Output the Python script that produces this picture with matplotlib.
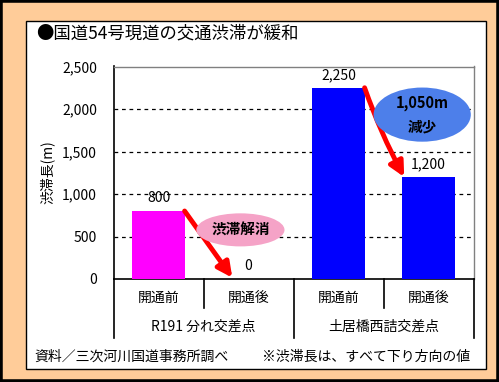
import matplotlib
matplotlib.use("Agg")
import matplotlib.pyplot as plt
from matplotlib.patches import Rectangle, Ellipse
from matplotlib.lines import Line2D

plt.rcParams['font.family'] = ['Noto Sans CJK JP', 'DejaVu Sans']

# データ
title = "●国道54号現道の交通渋滞が緩和"
ylabel = "渋滞長(m)"
periods = ["開通前", "開通後", "開通前", "開通後"]
intersections = ["R191 分れ交差点", "土居橋西詰交差点"]
values = [800, 0, 2250, 1200]
value_labels = ["800", "0", "2,250", "1,200"]
bar_colors = ["#FF00FF", "#FF00FF", "#0000FF", "#0000FF"]
yticks = [0, 500, 1000, 1500, 2000, 2500]
note_left = "資料／三次河川国道事務所調べ"
note_right = "※渋滞長は、すべて下り方向の値"
bubble1 = "渋滞解消"
bubble2 = "1,050m\n減少"

W, H = 499, 382
fig = plt.figure(figsize=(W / 100, H / 100), dpi=100)

def fx(px):
    return px / W

def fy(py):
    return 1 - py / H

# 枠
fig.patches.append(Rectangle((0, 0), 1, 1, transform=fig.transFigure,
                             facecolor="#FFCC99", edgecolor="black", lw=4,
                             zorder=-10))
fig.patches.append(Rectangle((fx(25.5), fy(368.5)), fx(460), 348 / H,
                             transform=fig.transFigure, facecolor="white",
                             edgecolor="black", lw=1, zorder=-9))

fig.text(fx(36), fy(33), title, fontsize=12.5, va="center", ha="left")

# グラフ
x0, x1, y0, y1 = 113.5, 473.5, 66.5, 279
ax = fig.add_axes([fx(x0), fy(y1), fx(x1 - x0), (y1 - y0) / H])
ax.patch.set_alpha(0)
x = list(range(len(values)))
ax.bar(x, values, width=0.58, color=bar_colors, zorder=3)
ax.set_xlim(-0.5, 3.5)
ax.set_ylim(0, 2500)
ax.set_yticks(yticks)
ax.set_yticklabels([f"{v:,}" for v in yticks], fontsize=10)
ax.tick_params(axis="y", length=0, pad=12)
ax.set_xticks([])
for v in yticks[1:-1]:
    ax.axhline(v, color="black", lw=0.9, ls=(0, (3, 3)), zorder=1)
for side in ["top", "right"]:
    ax.spines[side].set_color("#808080")
    ax.spines[side].set_linewidth(1)
ax.spines["left"].set_linewidth(1.2)
ax.spines["bottom"].set_linewidth(1.2)

fig.text(fx(47), fy(172), ylabel, rotation=90, fontsize=10,
         va="center", ha="center")

# 値ラベル
for i, (v, lab) in enumerate(zip(values, value_labels)):
    ax.annotate(lab, (i, v), xytext=(0, 4), textcoords="offset points",
                ha="center", va="bottom", fontsize=10)

# 項目軸
for i, p in enumerate(periods):
    fig.text(fx(x0 + 45 + 90 * i), fy(298), p, fontsize=10,
             ha="center", va="center")
for j, name in enumerate(intersections):
    fig.text(fx(x0 + 90 + 180 * j), fy(327), name, fontsize=10,
             ha="center", va="center")
for k in range(5):
    xx = fx(x0 + 90 * k)
    bottom = 338 if k % 2 == 0 else 308
    fig.add_artist(Line2D([xx, xx], [fy(279), fy(bottom)], color="black",
                          lw=1.2, transform=fig.transFigure))

# 矢印と吹き出し
ax.annotate("", xy=(0.82, 15), xytext=(0.29, 800),
            arrowprops=dict(arrowstyle="-|>", color="#FF0000", lw=3.5,
                            mutation_scale=22, shrinkA=0, shrinkB=0),
            zorder=4)
ax.annotate("", xy=(2.73, 1200), xytext=(2.29, 2250),
            arrowprops=dict(arrowstyle="-|>", color="#FF0000", lw=3.5,
                            mutation_scale=22, shrinkA=0, shrinkB=0,
                            connectionstyle="arc3,rad=0.04"),
            zorder=4)

ax.add_patch(Ellipse((0.91, 578), 0.98, 389, facecolor="#F5A3C7",
                     edgecolor="none", zorder=5, clip_on=False))
ax.text(0.91, 578, bubble1, ha="center", va="center", fontsize=10.5,
        fontweight="bold", zorder=6)
ax.add_patch(Ellipse((2.93, 1934), 1.08, 637, facecolor="#4D7FEA",
                     edgecolor="none", zorder=5, clip_on=False))
ax.text(2.93, 1934, bubble2, ha="center", va="center", fontsize=10.5,
        fontweight="bold", linespacing=1.6, zorder=6)

# 注記
fig.text(fx(34), fy(357), note_left, fontsize=10, ha="left", va="center")
fig.text(fx(470), fy(357), note_right, fontsize=10, ha="right", va="center")

fig.savefig("out.png", dpi=100)
